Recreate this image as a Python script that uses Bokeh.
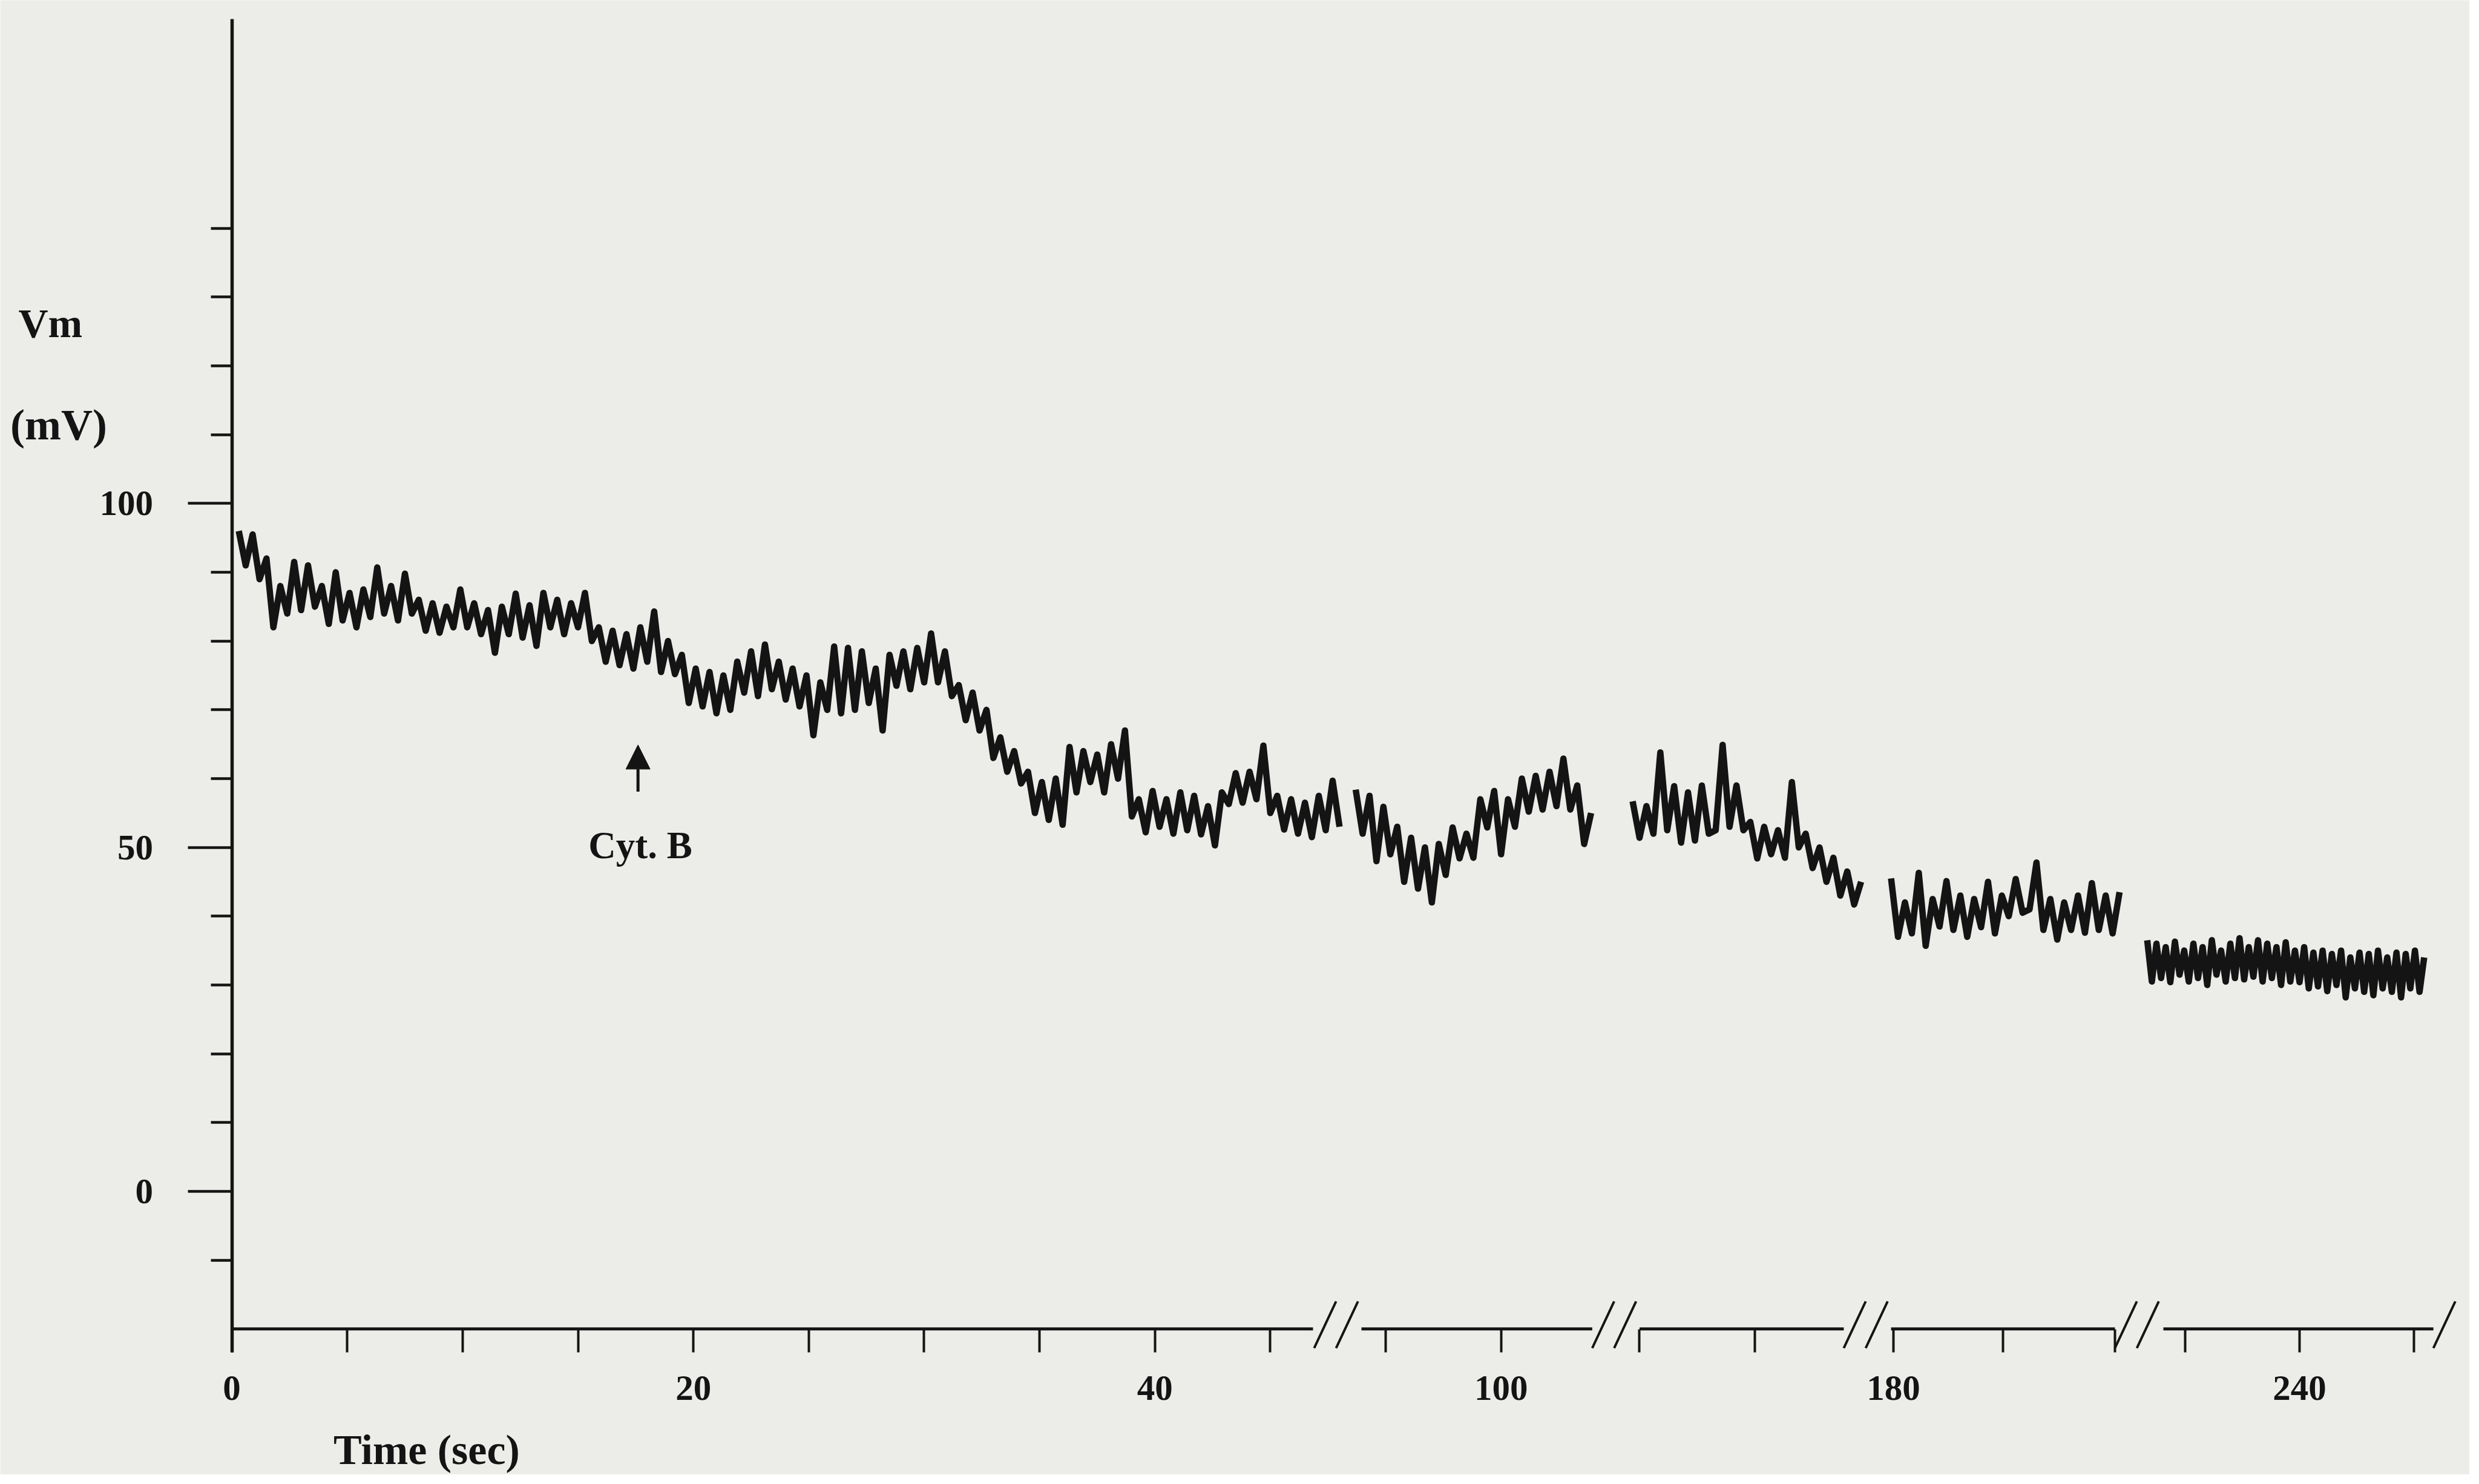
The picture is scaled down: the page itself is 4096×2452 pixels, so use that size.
import numpy as np
from bokeh.plotting import figure
from bokeh.models import Range1d, FixedTicker, CustomJSTickFormatter, Label, Arrow, NormalHead, LinearAxis
from bokeh.embed import file_html
from bokeh.resources import INLINE

# ---------------- data (x in axis units: compressed time with breaks) ----------------
seg1_start, seg1_step = 0.3, 0.3
seg1_vm = [96, 91, 95.5, 89, 92, 82, 88, 84, 91.5, 84.5,
           91, 85, 88, 82.5, 90, 83, 87, 82, 87.5, 83.5,
           90.7, 84, 88, 83, 89.8, 84, 86, 81.5, 85.5, 81.2,
           85, 82, 87.5, 82, 85.5, 81, 84.5, 78.3, 85, 81,
           86.9, 80.5, 85.2, 79.3, 87, 82, 86, 81, 85.5, 82,
           87, 80, 82, 77, 81.5, 76.5, 81, 76, 82, 77,
           84.3, 75.5, 80, 75.2, 78, 71, 76, 70.5, 75.5, 69.5,
           75, 70, 77, 72.5, 78.5, 72, 79.5, 73, 77, 71.5,
           76, 70.5, 75, 66.3, 74, 70, 79.2, 69.5, 79, 70,
           78.5, 71, 76, 67, 78, 73.5, 78.5, 73, 79, 74,
           81.1, 74, 78.5, 72, 73.6, 68.5, 72.5, 67, 70, 63,
           66, 61, 64, 59.3, 61, 55, 59.5, 54, 60, 53.3,
           64.6, 58, 64, 59.5, 63.5, 58, 65, 60, 67, 54.5,
           57, 52.2, 58.2, 53, 57, 52, 58, 52.5, 57.5, 51.9,
           56, 50.3, 58, 56.3, 60.8, 56.5, 61, 57, 64.8, 55,
           57.5, 52.6, 57, 52, 56.5, 51.5, 57.5, 52.5, 59.7, 53]

seg2_start, seg2_step = 48.7, 0.3
seg2_vm = [58.4, 52, 57.5, 48, 55.9, 49, 53, 45, 51.4, 44,
           50, 42.0, 50.5, 46, 52.9, 48.4, 52, 48.5, 57, 52.9,
           58.2, 49, 57, 53, 60, 55.2, 60.4, 55.5, 61, 56,
           62.9, 55.5, 59, 50.5, 55]

seg3_start, seg3_step = 60.7, 0.3
seg3_vm = [56.7, 51.4, 56, 52, 63.8, 52.5, 58.9, 50.7, 58, 51,
           59, 52, 52.5, 64.9, 53, 59, 52.5, 53.7, 48.4, 53,
           49, 52.5, 48.5, 59.5, 50, 52, 47, 50, 45, 48.5,
           43, 46.5, 41.7, 45]

seg4_start, seg4_step = 71.9, 0.3
seg4_vm = [45.5, 37, 42, 37.5, 46.3, 35.7, 42.5, 38.5, 45.1, 38,
           43, 37, 42.5, 38.4, 45, 37.5, 43, 40, 45.4, 40.5,
           41, 47.8, 38, 42.5, 36.6, 42, 38, 43, 37.6, 44.8,
           38, 43, 37.5, 43.5]

seg5_start, seg5_step = 83.0, 0.2
seg5_vm = [36.5, 30.5, 36, 31, 35.5, 30.4, 36.3, 31.5, 35, 30.5,
           36, 31, 35.5, 30, 36.5, 31.5, 35, 30.5, 36, 31,
           36.8, 30.8, 35.5, 31.2, 36.5, 30.5, 36, 31, 35.5, 30,
           36.2, 30.5, 35, 30.4, 35.5, 29.5, 34.7, 29.8, 35, 29.1,
           34.5, 30, 35, 28.2, 34, 29.5, 34.7, 29, 34.5, 28.5,
           35, 29.5, 34, 29, 34.7, 28.2, 34.5, 29.5, 35, 29, 34]

segments = [(seg1_start, seg1_step, seg1_vm), (seg2_start, seg2_step, seg2_vm),
            (seg3_start, seg3_step, seg3_vm), (seg4_start, seg4_step, seg4_vm),
            (seg5_start, seg5_step, seg5_vm)]

# x axis: tick positions (axis units) and their labels (seconds)
x_ticks = [0, 5, 10, 15, 20, 25, 30, 35, 40, 45, 50, 55, 61, 66, 72, 76.75, 81.6, 84.65, 89.6, 94.55]
x_tick_labels = ["0", "", "", "", "20", "", "", "", "40", "", "", "100", "", "", "180", "", "", "", "240", ""]
# pieces of the broken time axis
axis_piece_start = [0, 48.95, 61.0, 71.9, 83.7]
axis_piece_end = [46.85, 58.95, 69.85, 81.6, 95.4]
double_break_at = [46.9, 58.95, 69.85, 81.6]
single_break_at = [95.4]

# y axis
y_major = [0, 50, 100]
y_minor = [-10, 10, 20, 30, 40, 60, 70, 80, 90, 110, 120, 130, 140]
Y_BOTTOM, Y_TOP = -23.4, 170.4

# ---------------- figure ----------------
S = 0.955
PAPER = "#ecece9"
INK = "#141414"
FONT = "Liberation Serif"

p = figure(width=4080, height=2436, output_backend="svg", toolbar_location=None,
           x_axis_location=None, y_axis_location=None,
           x_range=Range1d(-10.034, 96.97), y_range=Range1d(-41.19, 173.16),
           min_border_left=0, min_border_right=0, min_border_top=0, min_border_bottom=0)
p.background_fill_color = PAPER
p.border_fill_color = PAPER
p.outline_line_color = None
p.grid.visible = False

ya = LinearAxis(fixed_location=0, bounds=(Y_BOTTOM, Y_TOP))
ya.ticker = FixedTicker(ticks=y_major, minor_ticks=y_minor)
ya.axis_line_width = 5.5
ya.axis_line_color = INK
ya.major_tick_out = int(77 * S)
ya.major_tick_in = 0
ya.minor_tick_out = int(37 * S)
ya.minor_tick_in = 0
ya.major_tick_line_width = 4.5
ya.minor_tick_line_width = 4.5
ya.major_tick_line_color = INK
ya.minor_tick_line_color = INK
ya.major_label_text_font = FONT
ya.major_label_text_font_style = "bold"
ya.major_label_text_font_size = f"{int(62 * S)}px"
ya.major_label_text_color = INK
ya.major_label_standoff = int(60 * S)
p.add_layout(ya, "left")

xa = LinearAxis(fixed_location=Y_BOTTOM)
xa.ticker = FixedTicker(ticks=x_ticks)
xa.formatter = CustomJSTickFormatter(args=dict(T=x_ticks, L=x_tick_labels), code="""
for (let i = 0; i < T.length; i++) { if (Math.abs(tick - T[i]) < 1e-6) return L[i]; }
return "";
""")
xa.axis_line_color = None
xa.major_tick_in = int(40 * S)
xa.major_tick_out = 0
xa.minor_tick_line_color = None
xa.major_tick_line_width = 4
xa.major_tick_line_color = INK
xa.major_label_text_font = FONT
xa.major_label_text_font_style = "bold"
xa.major_label_text_font_size = f"{int(62 * S)}px"
xa.major_label_text_color = INK
xa.major_label_standoff = int(42 * S)
p.add_layout(xa, "below")

# broken time axis line
p.segment(x0=axis_piece_start, y0=-20, x1=axis_piece_end, y1=-20, line_width=5, line_color=INK)
bx0 = [b for b in double_break_at] + [b + 0.95 for b in double_break_at] + single_break_at
p.segment(x0=bx0, y0=-22.8, x1=[b + 0.95 for b in bx0], y1=-16, line_width=4, line_color=INK)

# trace
for start, step, vals in segments:
    t = start + step * np.arange(len(vals))
    p.line(t, vals, line_width=10.5, line_color=INK, line_join="round")

# Cyt. B marker
p.add_layout(Arrow(end=NormalHead(size=40, fill_color=INK, line_color=INK, line_width=1),
                   x_start=17.6, y_start=58.1, x_end=17.6, y_end=64.9,
                   line_width=5, line_color=INK))

def lab(x, y, text, size, align="left"):
    p.add_layout(Label(x=x, y=y, text=text, text_font=FONT, text_font_style="bold",
                       text_font_size=f"{int(size * S)}px", text_color=INK,
                       text_align=align, text_baseline="alphabetic"))

lab(17.7, 50.3, "Cyt. B", 66, "center")
lab(-9.25, 126.2, "Vm", 72)
lab(-9.6, 111.4, "(mV)", 76)
lab(8.44, -37.6, "Time (sec)", 74, "center")

open("out.html", "w").write(file_html(p, INLINE))
